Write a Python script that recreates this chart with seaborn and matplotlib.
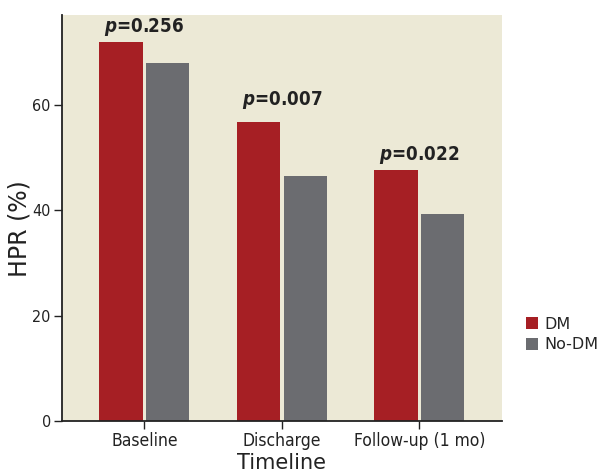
import matplotlib
matplotlib.use("Agg")
import matplotlib.pyplot as plt
import seaborn as sns
import pandas as pd
from matplotlib.patches import Patch

categories = ["Baseline", "Discharge", "Follow-up (1 mo)"]
groups = ["DM", "No-DM"]
dm_values = [72.0, 56.7, 47.6]
nodm_values = [68.0, 46.4, 39.2]
p_labels = ["0.256", "0.007", "0.022"]
p_label_y = [72.7, 58.9, 48.4]
y_ticks = [0, 20, 40, 60]

df = pd.DataFrame({
    "Timeline": categories * 2,
    "Group": [groups[0]] * 3 + [groups[1]] * 3,
    "HPR": dm_values + nodm_values,
})

sns.set_style("ticks")
plt.rcParams["font.family"] = ["DejaVu Sans"]
plt.rcParams["font.stretch"] = "condensed"

colors = {"DM": "#A61F24", "No-DM": "#6B6C70"}
bg = "#ECE9D6"

fig = plt.figure(figsize=(6.01, 4.74), dpi=100)
ax = fig.add_axes([0.103, 0.112, 0.732, 0.856])
sns.barplot(data=df, x="Timeline", y="HPR", hue="Group", order=categories,
            hue_order=groups, palette=colors, width=0.68, gap=0.07,
            saturation=1, linewidth=0, ax=ax, legend=False)
ax.set_facecolor(bg)
ax.set_xlim(-0.6, 2.6)
ax.set_ylim(0, 77)
ax.set_yticks(y_ticks)
for s in ["top", "right"]:
    ax.spines[s].set_visible(False)
for s in ["left", "bottom"]:
    ax.spines[s].set_color("#222222")
    ax.spines[s].set_linewidth(1.3)
ax.tick_params(axis="both", length=6, width=1, color="#222222", labelcolor="#222222")
ax.tick_params(axis="x", labelsize=12.5, pad=2)
ax.tick_params(axis="y", labelsize=11.5, pad=2)
ax.set_xlabel("Timeline", fontsize=15, color="#222222", labelpad=2, fontstretch="normal")
ax.set_ylabel("HPR (%)", fontsize=17, color="#222222", fontstretch="normal")
ax.yaxis.set_label_coords(-0.068, 0.475)

for i, (lab, yv) in enumerate(zip(p_labels, p_label_y)):
    ax.text(i, yv, r"$\mathbfit{p}$=" + lab, ha="center", va="bottom",
            fontsize=13.5, fontweight="bold", color="#222222")

handles = [Patch(facecolor=colors[g], edgecolor="none", label=g) for g in groups]
fig.legend(handles=handles, loc="upper left", bbox_to_anchor=(0.865, 0.345),
           frameon=False, handlelength=0.75, handleheight=0.75,
           handletextpad=0.4, labelspacing=0.35, borderaxespad=0,
           prop={"size": 11.5, "stretch": "normal"})

fig.savefig("out.png", dpi=100)
